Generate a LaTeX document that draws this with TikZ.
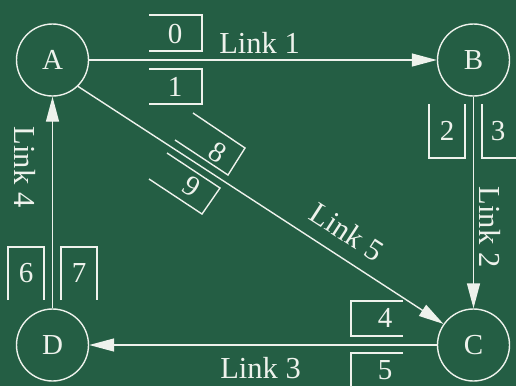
\documentclass[tikz,border=0pt]{standalone}
\usepackage{fontspec}
\setmainfont{Liberation Serif}
\usetikzlibrary{arrows.meta}
\definecolor{board}{RGB}{36,94,68}
\definecolor{chalk}{RGB}{238,242,236}
\begin{document}
\begin{tikzpicture}[x=1pt,y=-1pt,
  every node/.style={text=chalk,font=\fontsize{29}{29}\selectfont},
  linklabel/.style={font=\fontsize{30.5}{30.5}\selectfont},
  station/.style={circle,draw=chalk,line width=1.4pt,minimum size=72pt,inner sep=0pt},
  link/.style={draw=chalk,line width=1.4pt,-{Triangle[length=25pt,width=13pt]}},
  queue/.style={draw=chalk,line width=1.4pt}]
\fill[board] (0,0) rectangle (516,386);
\useasboundingbox (0,0) rectangle (516,386);
\clip (0,0) rectangle (516,386);
% stations
\node[station] (A) at (52.5,60) {A};
\node[station] (B) at (473.5,60) {B};
\node[station] (C) at (473.5,345) {C};
\node[station] (D) at (52.5,345) {D};
% links
\draw[link] (A) -- (B);
\draw[link] (B) -- (C);
\draw[link] (C) -- (D);
\draw[link] (D) -- (A);
\draw[link] (A.-46.6) -- (C.145);
% link labels
\node[linklabel,anchor=base] (l1) at (259.5,53) {Link 1};
\node[linklabel,anchor=base] (l3) at (260.5,378) {Link 3};
\node[linklabel,rotate=-90] (l2) at (490,227) {Link 2};
\node[linklabel,rotate=-90] (l4) at (25,167) {Link 4};
\node[linklabel,rotate=-33] (l5) at (347,232) {Link 5};
% queues
\draw[queue] (149,15) -- (202,15) -- (202,51) -- (149,51);
\draw[queue] (149,69) -- (202,69) -- (202,104) -- (149,104);
\draw[queue] (429,104) -- (429,158) -- (465,158) -- (465,104);
\draw[queue] (482,104) -- (482,158) -- (520,158) -- (520,104);
\draw[queue] (8,300) -- (8,247) -- (44,247) -- (44,300);
\draw[queue] (61,300) -- (61,247) -- (97,247) -- (97,300);
\draw[queue] (403,301) -- (351,301) -- (351,336) -- (403,336);
\draw[queue] (403,353) -- (351,353) -- (351,392) -- (403,392);
\draw[queue] (193,113) -- (245,148) -- (228,175) -- (175,140);
\draw[queue] (167,153) -- (220,188) -- (202,214) -- (149,179);
% queue labels
\node (q0) at (175,34) {0};
\node (q1) at (175,87) {1};
\node (q2) at (447,131) {2};
\node (q3) at (498,131) {3};
\node (q6) at (26,273) {6};
\node (q7) at (79,273) {7};
\node (q4) at (385,318) {4};
\node (q5) at (385,370) {5};
\node[rotate=-33] (q8) at (218,152) {8};
\node[rotate=-33] (q9) at (192,187) {9};
\end{tikzpicture}
\end{document}
